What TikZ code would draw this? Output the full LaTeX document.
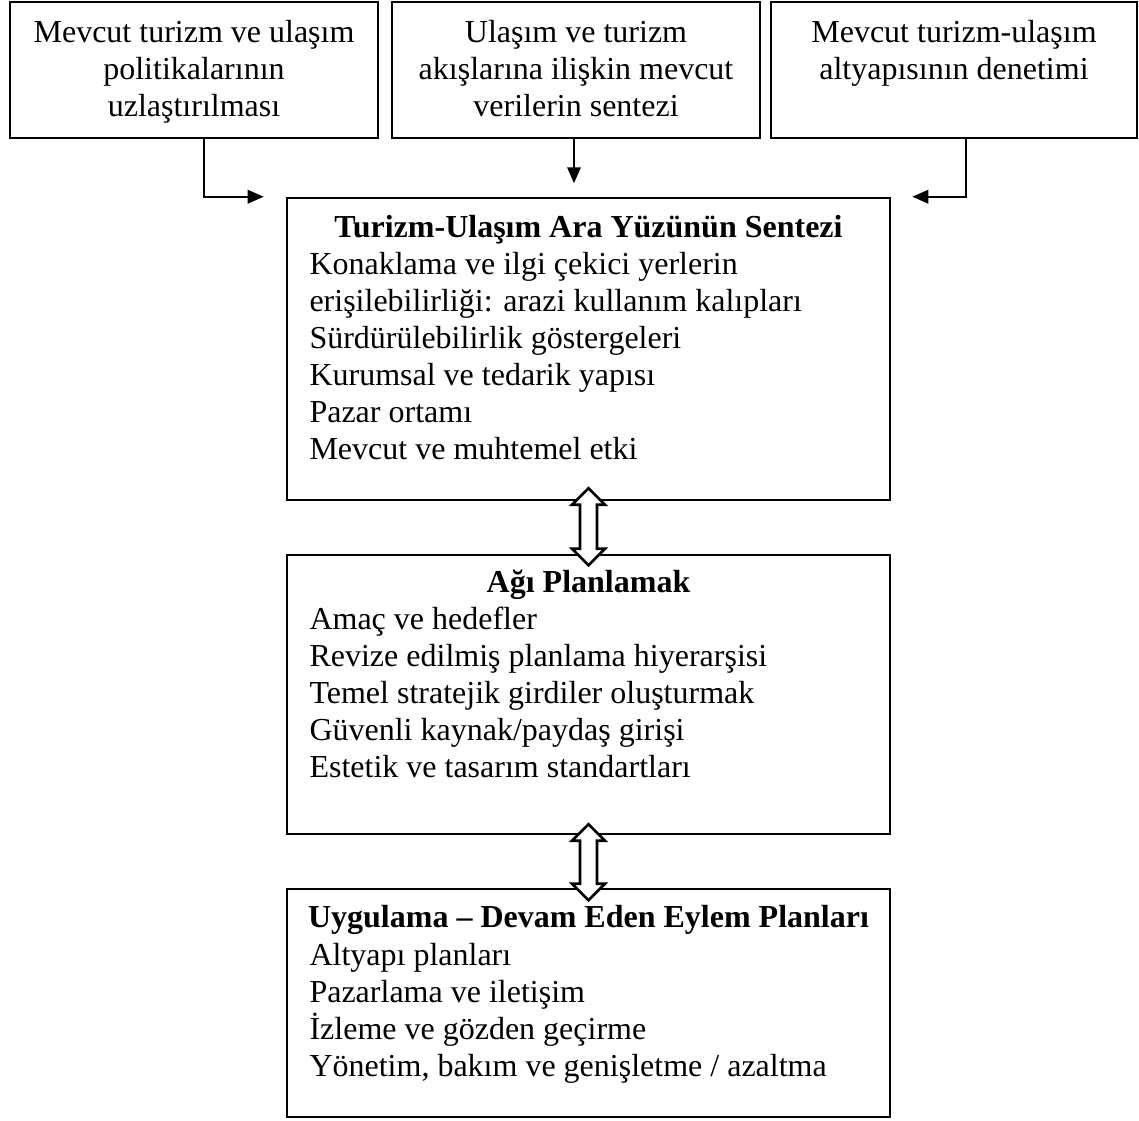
\documentclass[tikz,border=0pt]{standalone}
\usepackage{fontspec}
\setmainfont{Liberation Serif}
\usetikzlibrary{arrows.meta,calc,fit}
\begin{document}
\begin{tikzpicture}[x=0.375pt,y={(0,-0.375pt)},
  box/.style={draw, line width=0.95pt, inner sep=0pt},
  txt/.style={inner sep=0pt, font=\fontsize{12pt}{13.875pt}\selectfont},
  conn/.style={line width=0.9pt, -{Triangle[length=6pt,width=5pt]}},
  dblp/.style={draw, fill=white, line width=0.95pt, line join=miter}]
\useasboundingbox (0,0) rectangle (1139,1121);

% top boxes
\node[box, fit={(10,2) (378,138)}] (tl) {};
\node[box, fit={(392,2) (760,138)}] (tm) {};
\node[box, fit={(771,2) (1137,138)}] (tr) {};

\node[txt, anchor=base] (tlt) at (194,43) {\begin{tabular}[t]{@{}c@{}}Mevcut turizm ve ulaşım\\politikalarının\\uzlaştırılması\end{tabular}};
\node[txt, anchor=base] (tmt) at (576,43) {\begin{tabular}[t]{@{}c@{}}Ulaşım ve turizm\\akışlarına ilişkin mevcut\\verilerin sentezi\end{tabular}};
\node[txt, anchor=base] (trt) at (954,43) {\begin{tabular}[t]{@{}c@{}}Mevcut turizm-ulaşım\\altyapısının denetimi\end{tabular}};

% main boxes
\node[box, fit={(287,198) (890,500)}] (b1) {};
\node[box, fit={(287,555) (890,834)}] (b2) {};
\node[box, fit={(287,889) (890,1117)}] (b3) {};

\node[txt, anchor=base] (b1t) at (588.5,238) {\textbf{Turizm-Ulaşım Ara Yüzünün Sentezi}};
\node[txt, anchor=base west] (b1b) at (309,275) {\begin{tabular}[t]{@{}l@{}}Konaklama ve ilgi çekici yerlerin\\erişilebilirliği: arazi kullanım kalıpları\\Sürdürülebilirlik göstergeleri\\Kurumsal ve tedarik yapısı\\Pazar ortamı\\Mevcut ve muhtemel etki\end{tabular}};

\node[txt, anchor=base] (b2t) at (588.5,593) {\textbf{Ağı Planlamak}};
\node[txt, anchor=base west] (b2b) at (309,630) {\begin{tabular}[t]{@{}l@{}}Amaç ve hedefler\\Revize edilmiş planlama hiyerarşisi\\Temel stratejik girdiler oluşturmak\\Güvenli kaynak/paydaş girişi\\Estetik ve tasarım standartları\end{tabular}};

\node[txt, anchor=base] (b3t) at (588.5,928) {\textbf{Uygulama – Devam Eden Eylem Planları}};
\node[txt, anchor=base west] (b3b) at (309,965) {\begin{tabular}[t]{@{}l@{}}Altyapı planları\\Pazarlama ve iletişim\\İzleme ve gözden geçirme\\Yönetim, bakım ve genişletme / azaltma\end{tabular}};

% connectors
\draw[conn] ($(tl.south)+(10,0)$) |- ($(b1.north west)+(-22,0)$);
\draw[conn] ($(tm.south)+(-2,0)$) -- ($(tm.south)+(-2,44)$);
\draw[conn] ($(tr.south)+(12,0)$) |- ($(b1.north east)+(21,0)$);

% double arrows
\draw[dblp] ($(b1.south)+(0,-13)$) -- ++(16.5,16.5) -- ++(-8,0) -- ++(0,44) -- ++(8,0)
  -- ++(-16.5,16.5) -- ++(-16.5,-16.5) -- ++(8,0) -- ++(0,-44) -- ++(-8,0) -- cycle;
\draw[dblp] ($(b2.south)+(0,-11)$) -- ++(16.5,16.5) -- ++(-8,0) -- ++(0,43) -- ++(8,0)
  -- ++(-16.5,16.5) -- ++(-16.5,-16.5) -- ++(8,0) -- ++(0,-43) -- ++(-8,0) -- cycle;
\end{tikzpicture}
\end{document}
